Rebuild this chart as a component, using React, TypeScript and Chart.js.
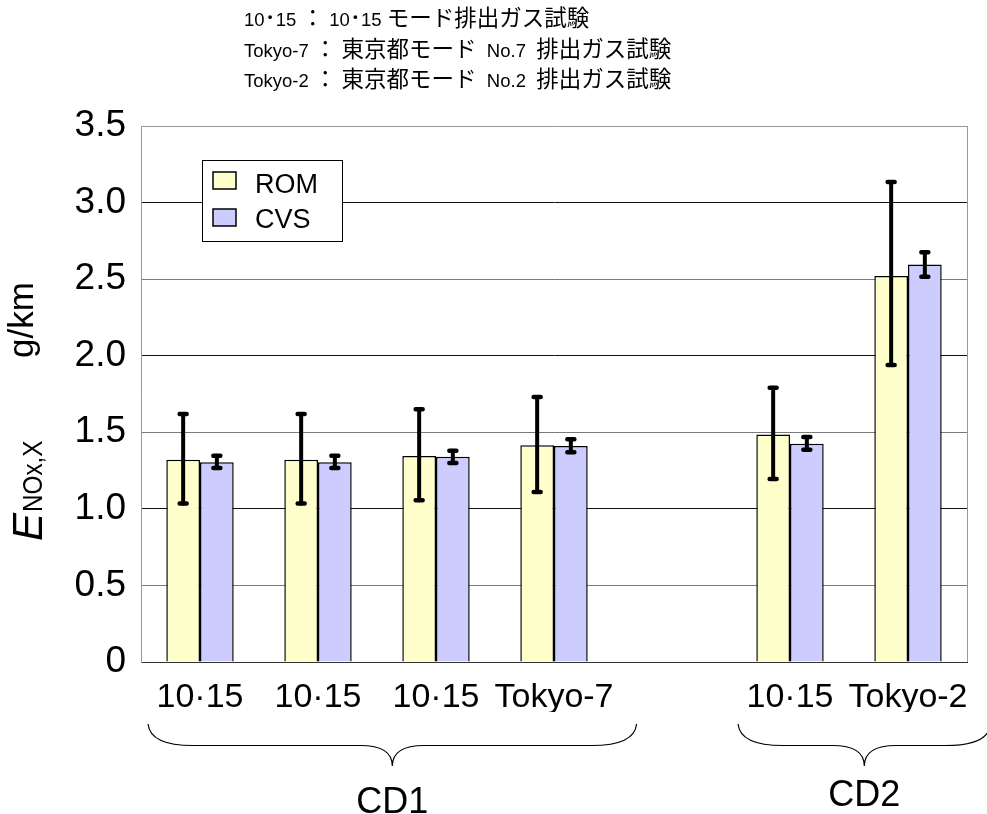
import React, { useEffect, useRef } from 'react';
import { Chart, registerables } from 'chart.js';

Chart.register(...registerables);

const categories = ['10·15', '10·15', '10·15', 'Tokyo-7', '', '10·15', 'Tokyo-2'];
const seriesNames = ['ROM', 'CVS'];
const romValues = [1.32, 1.32, 1.345, 1.415, null, 1.485, 2.52];
const romHigh = [1.62, 1.62, 1.65, 1.73, null, 1.79, 3.135];
const romLow = [1.035, 1.035, 1.057, 1.11, null, 1.195, 1.94];
const cvsValues = [1.305, 1.305, 1.34, 1.41, null, 1.425, 2.595];
const cvsHigh = [1.347, 1.347, 1.38, 1.455, null, 1.47, 2.675];
const cvsLow = [1.266, 1.266, 1.3, 1.37, null, 1.386, 2.516];
const noteLines = [
  '10･15 ： 10･15 モード排出ガス試験',
  'Tokyo-7 ： 東京都モード  No.7  排出ガス試験',
  'Tokyo-2 ： 東京都モード  No.2  排出ガス試験',
];
const groupLabels = ['CD1', 'CD2'];
const groupFrom = [0, 5];
const groupTo = [3, 6];
const yMin = 0;
const yMax = 3.5;
const yStep = 0.5;

const romColor = '#FFFFCC';
const cvsColor = '#CCCCFF';
const FONT = '"Liberation Sans", Arial, "Noto Sans CJK JP", sans-serif';
const CJK_FONT = '"Noto Sans CJK JP", sans-serif';

function drawMixed(ctx: CanvasRenderingContext2D, text: string, x: number, y: number) {
  const isCJK = (ch: string) => /[\u3000-\u30ff\u4e00-\u9fff\uff00-\uffef]/.test(ch);
  const runs: { t: string; c: boolean }[] = [];
  for (const ch of text) {
    const c = isCJK(ch);
    if (runs.length && runs[runs.length - 1].c === c) runs[runs.length - 1].t += ch;
    else runs.push({ t: ch, c });
  }
  let cx = x;
  for (const r of runs) {
    ctx.font = r.c ? `22.5px ${CJK_FONT}` : `18.5px ${FONT}`;
    ctx.fillText(r.t, cx, y);
    cx += ctx.measureText(r.t).width;
  }
}

const errorBarPlugin = {
  id: 'errorBars',
  afterDatasetsDraw(chart: any) {
    const ctx = chart.ctx;
    const yScale = chart.scales.y;
    const hiArr = [romHigh, cvsHigh];
    const loArr = [romLow, cvsLow];
    ctx.save();
    ctx.strokeStyle = '#000';
    ctx.lineCap = 'round';
    chart.data.datasets.forEach((ds: any, di: number) => {
      const meta = chart.getDatasetMeta(di);
      meta.data.forEach((el: any, i: number) => {
        const hi = hiArr[di][i];
        const lo = loArr[di][i];
        if (hi == null || lo == null) return;
        const x = el.x;
        const yh = yScale.getPixelForValue(hi);
        const yl = yScale.getPixelForValue(lo);
        ctx.lineWidth = 4;
        ctx.beginPath();
        ctx.moveTo(x, yh);
        ctx.lineTo(x, yl);
        ctx.stroke();
        ctx.lineWidth = 4.5;
        ctx.beginPath();
        ctx.moveTo(x - 3.5, yh);
        ctx.lineTo(x + 3.5, yh);
        ctx.moveTo(x - 3.5, yl);
        ctx.lineTo(x + 3.5, yl);
        ctx.stroke();
      });
    });
    ctx.restore();
  },
};

const decorPlugin = {
  id: 'decor',
  afterDraw(chart: any) {
    const ctx = chart.ctx;
    const area = chart.chartArea;
    const xScale = chart.scales.x;
    ctx.save();

    // right border
    ctx.strokeStyle = '#999';
    ctx.lineWidth = 1;
    ctx.beginPath();
    ctx.moveTo(Math.round(area.right) + 0.5, area.top);
    ctx.lineTo(Math.round(area.right) + 0.5, area.bottom);
    ctx.stroke();

    // notes at top
    ctx.fillStyle = '#000';
    ctx.textAlign = 'left';
    ctx.textBaseline = 'alphabetic';
    const noteBase = [26, 56.5, 86.5];
    noteLines.forEach((t, i) => drawMixed(ctx, t, 244, noteBase[i]));

    // legend
    const lx = 202.5, ly = 160.5, lw = 140, lh = 81;
    ctx.fillStyle = '#fff';
    ctx.fillRect(lx, ly, lw, lh);
    ctx.strokeStyle = '#000';
    ctx.lineWidth = 1;
    ctx.strokeRect(lx, ly, lw, lh);
    const swY = [172, 209];
    const txtBase = [193, 228];
    const cols = [romColor, cvsColor];
    seriesNames.forEach((n, i) => {
      ctx.fillStyle = cols[i];
      ctx.fillRect(213, swY[i], 23, 17);
      ctx.lineWidth = 1.5;
      ctx.strokeStyle = '#000';
      ctx.strokeRect(213, swY[i], 23, 17);
      ctx.fillStyle = '#000';
      ctx.font = `27px ${FONT}`;
      ctx.fillText(n, 255, txtBase[i]);
    });

    // y axis title
    ctx.save();
    ctx.translate(33, 320);
    ctx.rotate(-Math.PI / 2);
    ctx.font = `35px ${FONT}`;
    ctx.textAlign = 'center';
    ctx.fillStyle = '#000';
    ctx.fillText('g/km', 0, 0);
    ctx.restore();

    ctx.save();
    ctx.translate(42, 541);
    ctx.rotate(-Math.PI / 2);
    ctx.textAlign = 'left';
    ctx.fillStyle = '#000';
    ctx.font = `italic 42px ${FONT}`;
    ctx.fillText('E', 0, 0);
    const ew = ctx.measureText('E').width;
    ctx.translate(ew + 1, 0);
    ctx.scale(0.9, 1);
    ctx.font = `27px ${FONT}`;
    ctx.fillText('NOx,X', 0, 0);
    ctx.restore();

    // group braces
    const w = xScale.getPixelForValue(1) - xScale.getPixelForValue(0);
    const yTop = 724, yMid = 745.5, yTip = 766;
    const labelBase = [813, 806];
    groupLabels.forEach((g, gi) => {
      const L = xScale.getPixelForValue(groupFrom[gi]) - 0.44 * w;
      const R = xScale.getPixelForValue(groupTo[gi]) + 0.7 * w;
      const T = (L + R) / 2;
      ctx.strokeStyle = '#000';
      ctx.lineWidth = 1.2;
      ctx.beginPath();
      ctx.moveTo(L, yTop);
      ctx.quadraticCurveTo(L + 2, yMid, L + 45, yMid);
      ctx.lineTo(T - 32, yMid);
      ctx.quadraticCurveTo(T, yMid, T, yTip);
      ctx.moveTo(R, yTop);
      ctx.quadraticCurveTo(R - 2, yMid, R - 45, yMid);
      ctx.lineTo(T + 32, yMid);
      ctx.quadraticCurveTo(T, yMid, T, yTip);
      ctx.stroke();
      ctx.fillStyle = '#000';
      ctx.font = `36px ${FONT}`;
      ctx.textAlign = 'center';
      ctx.fillText(g, T, labelBase[gi]);
    });

    ctx.restore();
  },
};

export default function App() {
  const ref = useRef<HTMLCanvasElement | null>(null);
  useEffect(() => {
    document.body.style.margin = '0';
    const canvas = ref.current;
    if (!canvas) return;
    const chart = new Chart(canvas, {
      type: 'bar',
      data: {
        labels: categories,
        datasets: [
          {
            label: seriesNames[0],
            data: romValues as any,
            backgroundColor: romColor,
            borderColor: '#000',
            borderWidth: 1.5,
            categoryPercentage: 0.571,
            barPercentage: 1.0,
          },
          {
            label: seriesNames[1],
            data: cvsValues as any,
            backgroundColor: cvsColor,
            borderColor: '#000',
            borderWidth: 1.5,
            categoryPercentage: 0.571,
            barPercentage: 1.0,
          },
        ],
      },
      options: {
        responsive: false,
        animation: false,
        devicePixelRatio: 1,
        layout: { padding: { left: 0, top: 126, right: 20, bottom: 102 } },
        plugins: {
          legend: { display: false },
          tooltip: { enabled: false },
          title: { display: false },
        },
        scales: {
          x: {
            offset: true,
            grid: { display: false, drawTicks: false },
            border: { display: true, color: '#333', width: 1 },
            ticks: {
              autoSkip: false,
              maxRotation: 0,
              minRotation: 0,
              padding: 15,
              color: '#000',
              font: { family: FONT, size: 34 },
            },
            afterFit: (s: any) => {
              s.height = 50;
            },
          },
          y: {
            min: yMin,
            max: yMax,
            grid: {
              drawTicks: false,
              color: (c: any) => {
                const v = c.tick ? c.tick.value : 0;
                if (v === yMax) return '#999';
                return Math.abs(v % 1) < 1e-9 ? '#111' : '#7a7a7a';
              },
              lineWidth: 1,
            },
            border: { display: true, color: '#999', width: 1 },
            ticks: {
              stepSize: yStep,
              padding: 15,
              color: '#000',
              font: { family: FONT, size: 37 },
              callback: (v: any) => (Number(v) === 0 ? '0' : Number(v).toFixed(1)),
            },
            afterFit: (s: any) => {
              s.width = 141;
            },
          },
        },
      },
      plugins: [errorBarPlugin, decorPlugin],
    });
    return () => chart.destroy();
  }, []);
  return (
    <div style={{ position: 'absolute', left: 0, top: 0, width: 987, height: 814 }}>
      <canvas ref={ref} width={987} height={814} style={{ display: 'block' }} />
    </div>
  );
}
